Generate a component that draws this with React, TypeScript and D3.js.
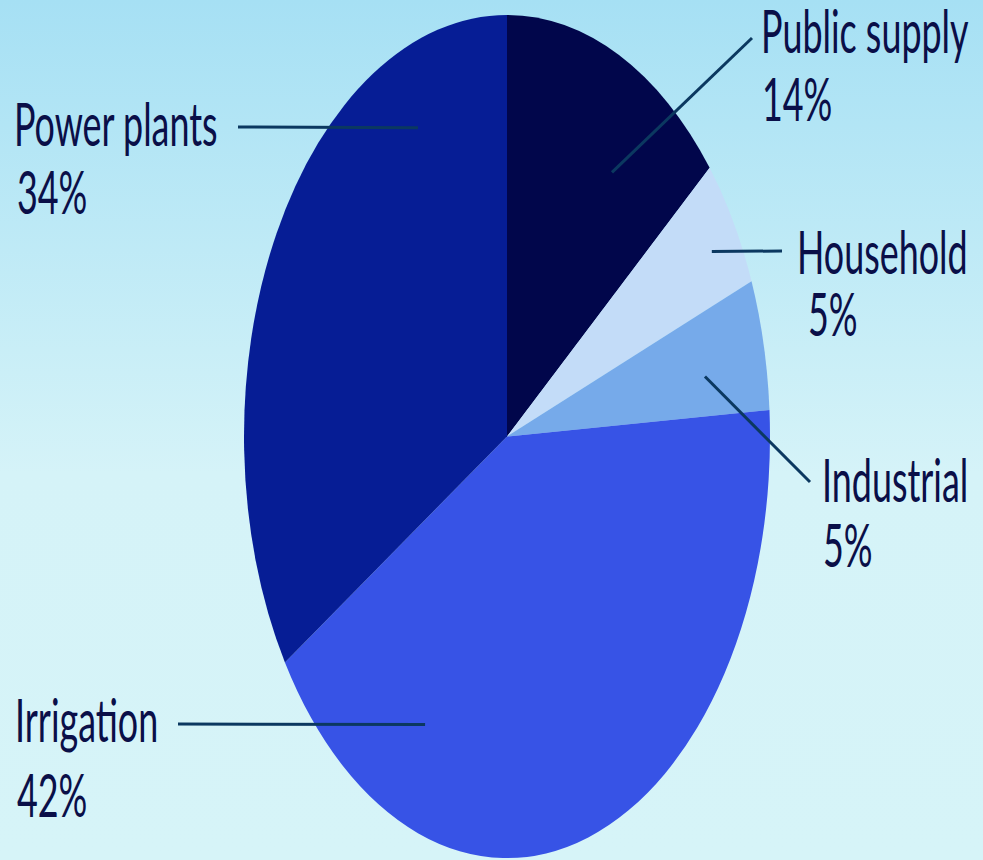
import * as d3 from 'd3'

const categories = ['Public supply', 'Household', 'Industrial', 'Irrigation', 'Power plants']
const shares = [14, 5, 5, 42, 34]
const sliceColors = ['#01064b', '#c3dcf8', '#76aaea', '#3753e6', '#061d95']

// where each leader line starts (angle in degrees, fraction of radius)
const leaderStart = [
  [32.5, 0.743],
  [60.6, 0.894],
  [79.3, 0.766],
  [204.5, 0.751],
  [335.2, 0.807]
]
// leader end + text placement in screen px
const leaderEnd = [
  [752, 38],
  [782, 251],
  [810, 482],
  [178, 724],
  [238, 127]
]
const nameXY = [
  [761, 53],
  [797, 274],
  [822, 502],
  [15, 742],
  [14, 146]
]
const pctXY = [
  [762, 121],
  [808, 336],
  [823, 567],
  [17, 817],
  [17, 214]
]

const W = 983
const H = 860
const cx = 507
const cy = 436.5
const R = 263
const SY = 1.603

export default function App() {
  const pie = d3.pie<number>().sort(null).value(d => d)
  const arcs = pie(shares)
  const arc = d3.arc<d3.PieArcDatum<number>>().innerRadius(0).outerRadius(R)

  const polar = (deg: number, frac: number) => {
    const a = (deg * Math.PI) / 180
    return [cx + R * frac * Math.sin(a), cy - R * frac * Math.cos(a) * SY]
  }

  return (
    <svg
      width={W}
      height={H}
      style={{ position: 'absolute', left: 0, top: 0, display: 'block' }}
    >
      <defs>
        <linearGradient id="bg" x1="0" y1="0" x2="0" y2="1">
          <stop offset="0" stopColor="#a6e0f4" />
          <stop offset="0.55" stopColor="#d5f3f8" />
          <stop offset="1" stopColor="#d6f4f8" />
        </linearGradient>
      </defs>
      <rect width={W} height={H} fill="url(#bg)" />

      <g transform={`translate(${cx},${cy}) scale(1,${SY})`}>
        {arcs.map((d, i) => (
          <path key={categories[i]} d={arc(d) || ''} fill={sliceColors[i]} />
        ))}
      </g>

      {categories.map((c, i) => {
        const [x1, y1] = polar(leaderStart[i][0], leaderStart[i][1])
        const [x2, y2] = leaderEnd[i]
        return (
          <line
            key={'l' + c}
            x1={x1}
            y1={y1}
            x2={x2}
            y2={y2}
            stroke="#0b3860"
            strokeWidth={3}
          />
        )
      })}

      {categories.map((c, i) => (
        <g key={'t' + c} fill="#0a0f48" style={{ fontFamily: 'Lato, sans-serif', fontSize: 37 }}>
          <text transform={`translate(${nameXY[i][0]},${nameXY[i][1]}) scale(0.97,${SY})`}>{c}</text>
          <text transform={`translate(${pctXY[i][0]},${pctXY[i][1]}) scale(0.97,${SY})`}>{shares[i]}%</text>
        </g>
      ))}
    </svg>
  )
}
